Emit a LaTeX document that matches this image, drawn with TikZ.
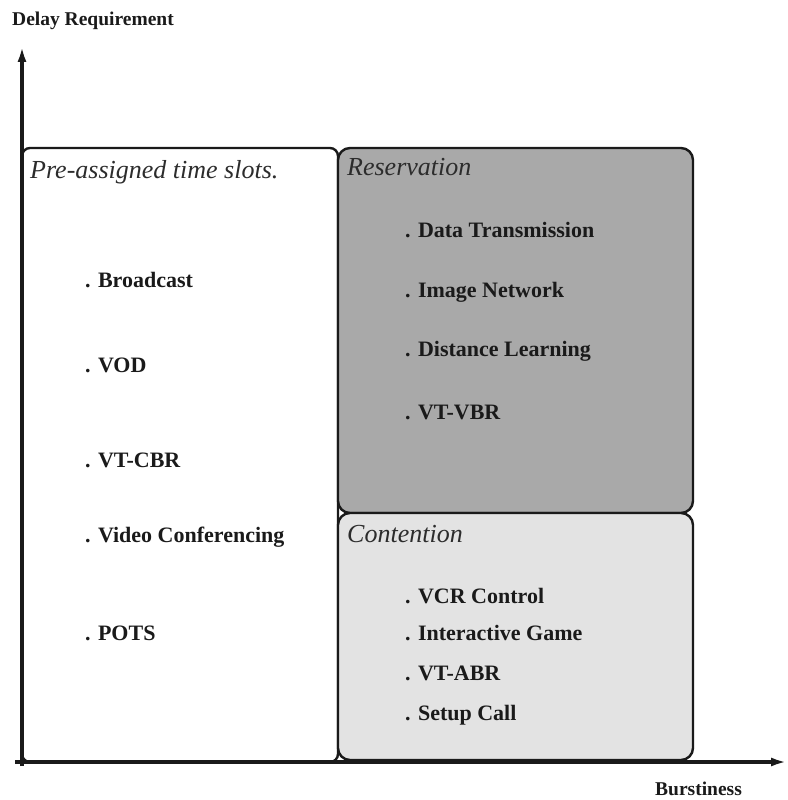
\documentclass[tikz,border=0pt]{standalone}
\usepackage{fontspec}
\setmainfont{Liberation Serif}
\usetikzlibrary{arrows.meta}
\definecolor{ink}{HTML}{1A1A1A}
\definecolor{headink}{HTML}{2C2C2C}
\definecolor{resfill}{HTML}{A9A9A9}
\definecolor{confill}{HTML}{E3E3E3}
\tikzset{
  axis/.style={line width=3.4pt, draw=ink, -{Latex[length=16pt,width=9pt]}},
  region/.style={draw=ink, line width=2.4pt, inner sep=0pt},
  item/.style={anchor=base west, inner sep=0pt, text=ink, font=\fontsize{22}{24}\selectfont\bfseries},
  heading/.style={anchor=base west, inner sep=0pt, text=headink, font=\fontsize{26}{28}\selectfont\itshape},
  axislabel/.style={anchor=base west, inner sep=0pt, text=ink, font=\fontsize{19.5}{21}\selectfont\bfseries}
}
\begin{document}
\begin{tikzpicture}[x=1pt, y=-1pt]
\useasboundingbox (0,0) rectangle (787,800);

% three regions of the delay / burstiness plane
\node[region, rounded corners=8pt, minimum width=316pt, minimum height=614pt] (pre) at (180,455) {};
\node[region, rounded corners=12pt, fill=resfill, minimum width=355pt, minimum height=365pt] (res) at (515.5,330.5) {};
\node[region, rounded corners=12pt, fill=confill, minimum width=355pt, minimum height=247pt] (con) at (515.5,636.5) {};

% axes
\coordinate (origin) at (15,762);
\coordinate (ybase) at (22,766);
\coordinate (ytip) at (22,46);
\coordinate (xtip) at (787,762);
\draw[axis] (ybase) -- (ytip);
\draw[axis] (origin) -- (xtip);

\node[axislabel] (ylab) at (12,26) {Delay Requirement};
\node[axislabel] (xlab) at (655,795) {Burstiness};

% pre-assigned time slots
\node[heading] (preh) at (30,178) {Pre-assigned time slots.};
\node[item] (p1) at (85,287) {. Broadcast};
\node[item] (p2) at (85,372) {. VOD};
\node[item] (p3) at (85,467) {. VT-CBR};
\node[item] (p4) at (85,542) {. Video Conferencing};
\node[item] (p5) at (85,640) {. POTS};

% reservation
\node[heading] (resh) at (347,175) {Reservation};
\node[item] (r1) at (405,237) {. Data Transmission};
\node[item] (r2) at (405,297) {. Image Network};
\node[item] (r3) at (405,356) {. Distance Learning};
\node[item] (r4) at (405,419) {. VT-VBR};

% contention
\node[heading] (conh) at (347,542) {Contention};
\node[item] (c1) at (405,603) {. VCR Control};
\node[item] (c2) at (405,640) {. Interactive Game};
\node[item] (c3) at (405,680) {. VT-ABR};
\node[item] (c4) at (405,720) {. Setup Call};
\end{tikzpicture}
\end{document}
